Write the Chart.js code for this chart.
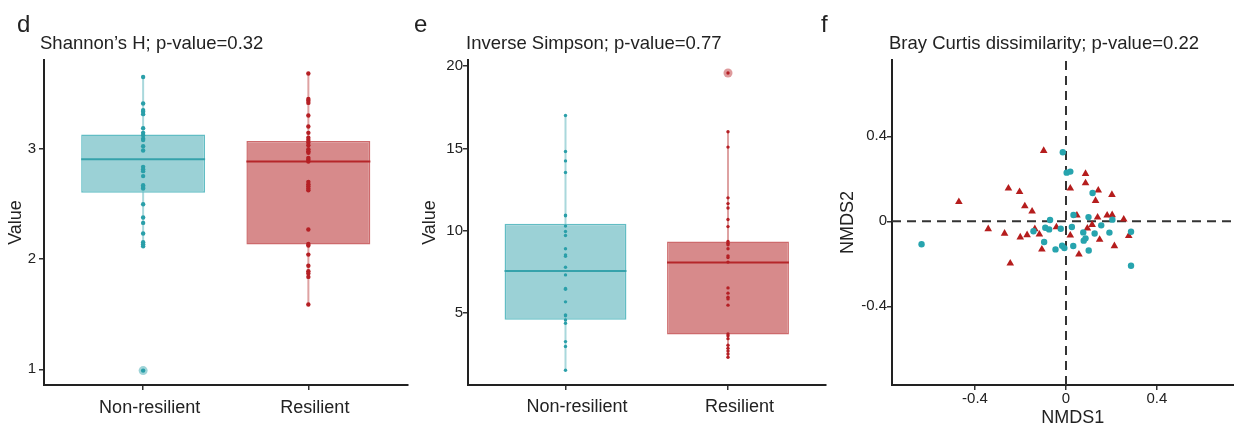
<!DOCTYPE html>
<html><head><meta charset="utf-8">
<script src="https://cdn.jsdelivr.net/npm/chart.js@4.4.1/dist/chart.umd.min.js"></script>
<style>
html,body{margin:0;padding:0;background:#fff;overflow:hidden;width:1234px;height:427px;position:relative;font-family:"Liberation Sans",Arial,sans-serif;color:#222}
canvas{position:absolute;top:0}
.lab{position:absolute;line-height:1;white-space:nowrap;color:#222}
.panel{font-size:24px}
.ttl{font-size:18.5px}
</style></head><body>
<canvas id="cd" width="412" height="427" style="left:0px"></canvas>
<canvas id="ce" width="414" height="427" style="left:416px"></canvas>
<canvas id="cf" width="426" height="430" style="left:832px"></canvas>
<div class="lab panel" style="left:17px;top:12px">d</div>
<div class="lab ttl" style="left:40px;top:34px">Shannon’s H; p-value=0.32</div>
<div class="lab panel" style="left:414px;top:12px">e</div>
<div class="lab ttl" style="left:466px;top:34px">Inverse Simpson; p-value=0.77</div>
<div class="lab panel" style="left:821px;top:12px">f</div>
<div class="lab ttl" style="left:889px;top:34px">Bray Curtis dissimilarity; p-value=0.22</div>
<script>
// ---------------- DATA ----------------
const groups = ['Non-resilient', 'Resilient'];

// Shannon's H (panel d)
const shannonNonResilient = [3.655,3.415,3.355,3.34,3.318,3.191,3.148,3.127,3.094,3.082,3.027,2.988,2.839,2.818,2.80,2.755,2.673,2.657,2.643,2.50,2.379,2.33,2.234,2.155,2.136,2.118,0.988];
const shannonResilient = [3.688,3.455,3.44,3.42,3.306,3.206,3.148,3.103,3.082,3.06,3.036,3.0,2.982,2.967,2.921,2.906,2.888,2.703,2.682,2.664,2.643,2.627,2.27,2.139,2.124,2.042,1.94,1.891,1.87,1.839,1.588];
const shannonOutNonResilient = [0.988];
const shannonOutResilient = [];
// [lower whisker, Q1, median, Q3, upper whisker]
const shannonBoxNonResilient = [2.115, 2.603, 2.909, 3.134, 3.655];
const shannonBoxResilient = [1.594, 2.133, 2.888, 3.075, 3.69];
const shannonTicks = [1, 2, 3];

// Inverse Simpson (panel e)
const simpsonNonResilient = [17.0,14.81,14.24,13.53,10.94,10.9,10.27,9.94,9.70,8.89,8.52,8.44,7.77,7.30,6.47,6.43,5.66,4.87,4.81,4.56,4.36,3.24,2.94,1.50];
const simpsonResilient = [19.59,16.01,15.08,11.99,11.64,11.37,10.67,10.24,9.33,9.23,9.13,8.89,8.46,8.36,8.08,6.51,6.19,5.94,5.84,5.46,3.71,3.59,3.42,3.02,2.83,2.67,2.49,2.29];
const simpsonOutNonResilient = [];
const simpsonOutResilient = [19.59];
const simpsonBoxNonResilient = [1.49, 4.574, 7.545, 10.41, 17.01];
const simpsonBoxResilient = [2.26, 3.68, 8.05, 9.33, 16.0];
const simpsonTicks = [5, 10, 15, 20];

// NMDS (panel f)
const nmdsResilientX = [-0.098,-0.471,-0.253,-0.204,-0.181,-0.149,-0.342,-0.27,-0.201,-0.171,-0.137,-0.117,-0.106,-0.245,-0.042,0.019,0.019,0.048,0.086,0.086,0.057,0.094,0.115,0.13,0.142,0.139,0.148,0.181,0.203,0.202,0.213,0.254,0.276];
const nmdsResilientY = [0.332,0.092,0.155,0.139,0.072,0.047,-0.036,-0.057,-0.075,-0.064,-0.036,-0.061,-0.132,-0.198,-0.027,0.155,-0.066,0.028,0.224,0.18,-0.155,-0.033,-0.016,0.097,0.146,0.019,-0.086,0.028,0.030,0.125,-0.116,0.009,-0.068];
const nmdsNonResilientX = [-0.635,-0.014,0.003,0.019,0.117,0.033,0.099,0.204,-0.07,-0.143,-0.091,-0.074,-0.023,0.026,0.076,0.126,0.155,0.191,0.286,-0.096,0.086,0.078,-0.046,-0.017,-0.007,0.032,0.1,0.286];
const nmdsNonResilientY = [-0.108,0.325,0.229,0.234,0.133,0.030,0.020,0.008,0.006,-0.047,-0.030,-0.038,-0.035,-0.027,-0.052,-0.057,-0.019,-0.053,-0.049,-0.097,-0.080,-0.091,-0.132,-0.115,-0.126,-0.116,-0.137,-0.209];
const nmdsTicks = [-0.4, 0, 0.4];
const nmdsTickLabels = ['-0.4', '0', '0.4'];

// ---------------- STYLE ----------------
Chart.defaults.font.family = '"Liberation Sans", Arial, sans-serif';
Chart.defaults.color = '#222';
const TEAL = {pt:'#2a9fa9', fill:'#9bd1d6', border:'#62bdc4', med:'#36a2ab', whisk:'#a9d8dc', out:'rgba(42,159,169,0.45)'};
const RED  = {pt:'#b51f24', fill:'#d78a8b', border:'#cd6a6c', med:'#b5262a', whisk:'#dea2a2', out:'rgba(181,31,36,0.45)'};
const PAL = [TEAL, RED];
const BOX_HALF = 0.375;
const AXC = '#222';

function axisCommon() {
  return {
    grid: {display: true, offset: false, drawOnChartArea: false, drawTicks: true, tickLength: 5, color: '#333', lineWidth: 1.5},
    border: {display: true, color: AXC, width: 2}
  };
}

function boxChart(id, o) {
  const ds = [];
  o.boxes.forEach((b, i) => {
    ds.push({type: 'line', data: [{x: i + 1, y: b[0]}, {x: i + 1, y: b[4]}], borderColor: PAL[i].whisk, borderWidth: 2, pointRadius: 0, order: 5});
  });
  ds.push({type: 'bar', data: o.boxes.map((b, i) => ({x: i + 1, y: [b[1], b[3]]})),
    backgroundColor: PAL.map(p => p.fill), borderColor: PAL.map(p => p.border),
    borderWidth: 1.5, borderSkipped: false, barPercentage: 0.75, categoryPercentage: 1, order: 4});
  o.boxes.forEach((b, i) => {
    ds.push({type: 'line', data: [{x: i + 1 - BOX_HALF, y: b[2]}, {x: i + 1 + BOX_HALF, y: b[2]}], borderColor: PAL[i].med, borderWidth: 2, pointRadius: 0, order: 3});
  });
  o.outliers.forEach((arr, i) => {
    ds.push({type: 'scatter', data: arr.map(v => ({x: i + 1, y: v})), backgroundColor: PAL[i].out, borderWidth: 0, pointRadius: 4.5, order: 2});
  });
  o.points.forEach((arr, i) => {
    ds.push({type: 'scatter', data: arr.map(v => ({x: i + 1, y: v})), backgroundColor: PAL[i].pt, borderWidth: 0, pointRadius: o.ptR, order: 1});
  });
  const ac = axisCommon();
  new Chart(document.getElementById(id), {
    type: 'scatter',
    data: {datasets: ds},
    options: {
      responsive: false, animation: false, devicePixelRatio: 1,
      layout: {padding: {top: 60, left: 0, right: o.padRight, bottom: 0}},
      plugins: {legend: {display: false}, tooltip: {enabled: false}, title: {display: false}},
      scales: {
        x: {type: 'linear', min: 0.4, max: 2.6, offset: false,
          afterBuildTicks: s => { s.ticks = groups.map((g, i) => ({value: i + 1})); },
          afterFit: s => { s.height = 42; },
          ticks: {callback: v => groups[Math.round(v) - 1], font: {size: 18}, padding: o.xPad, labelOffset: o.labelOffset, color: '#222', autoSkip: false, maxRotation: 0},
          grid: ac.grid, border: ac.border},
        y: {type: 'linear', min: o.yMin, max: o.yMax,
          afterBuildTicks: s => { s.ticks = o.ticks.map(v => ({value: v})); },
          afterFit: s => { s.width = o.yWidth; },
          ticks: {font: {size: 15}, padding: o.yPad, color: '#222'},
          title: {display: true, text: 'Value', font: {size: 18}, padding: {top: o.titlePad, bottom: 0}, color: '#222'},
          grid: ac.grid, border: ac.border}
      }
    }
  });
}

boxChart('cd', {
  boxes: [shannonBoxNonResilient, shannonBoxResilient],
  points: [shannonNonResilient, shannonResilient],
  outliers: [shannonOutNonResilient, shannonOutResilient],
  ticks: shannonTicks, yMin: 0.857, yMax: 3.81, yWidth: 44, yPad: 3, titlePad: 5,
  padRight: 2, xPad: 7.5, labelOffset: 6.5, ptR: 2.2
});
boxChart('ce', {
  boxes: [simpsonBoxNonResilient, simpsonBoxResilient],
  points: [simpsonNonResilient, simpsonResilient],
  outliers: [simpsonOutNonResilient, simpsonOutResilient],
  ticks: simpsonTicks, yMin: 0.6, yMax: 20.38, yWidth: 52, yPad: 0, titlePad: 3,
  padRight: 3, xPad: 6, labelOffset: 11.5, ptR: 1.7
});

// NMDS scatter
(function () {
  const ac = axisCommon();
  const X0 = -0.765, X1 = 0.825, Y0 = -0.77, Y1 = 0.759;
  new Chart(document.getElementById('cf'), {
    type: 'scatter',
    data: {datasets: [
      {type: 'line', data: [{x: X0, y: 0}, {x: X1, y: 0}], borderColor: '#333', borderWidth: 2, borderDash: [9, 6], pointRadius: 0, order: 5},
      {type: 'line', data: [{x: 0, y: Y0}, {x: 0, y: Y1}], borderColor: '#333', borderWidth: 2, borderDash: [9, 6], pointRadius: 0, order: 5},
      {label: 'Resilient', data: nmdsResilientX.map((x, i) => ({x, y: nmdsResilientY[i]})), pointStyle: 'triangle', pointRadius: 4.4, backgroundColor: '#b51d1d', borderColor: '#b51d1d', borderWidth: 0, order: 2},
      {label: 'Non-resilient', data: nmdsNonResilientX.map((x, i) => ({x, y: nmdsNonResilientY[i]})), pointStyle: 'circle', pointRadius: 3.2, backgroundColor: '#27a4ae', borderWidth: 0, order: 1}
    ]},
    options: {
      responsive: false, animation: false, devicePixelRatio: 1,
      layout: {padding: {top: 60, left: 0, right: 0, bottom: 0}},
      plugins: {legend: {display: false}, tooltip: {enabled: false}},
      scales: {
        x: {type: 'linear', min: X0, max: X1,
          afterBuildTicks: s => { s.ticks = nmdsTicks.map(v => ({value: v})); },
          afterFit: s => { s.height = 45; },
          ticks: {callback: (v, i) => nmdsTickLabels[i], font: {size: 15}, padding: 0, color: '#222', autoSkip: false, maxRotation: 0},
          title: {display: true, text: 'NMDS1', font: {size: 18}, padding: {top: 0, bottom: 1}, color: '#222'},
          grid: ac.grid, border: ac.border},
        y: {type: 'linear', min: Y0, max: Y1,
          afterBuildTicks: s => { s.ticks = nmdsTicks.map(v => ({value: v})); },
          afterFit: s => { s.width = 60; },
          ticks: {callback: (v, i) => nmdsTickLabels[i], font: {size: 15}, padding: 0, color: '#222'},
          title: {display: true, text: 'NMDS2', font: {size: 18}, padding: {top: 5, bottom: 0}, color: '#222'},
          grid: ac.grid, border: ac.border}
      }
    }
  });
})();
</script>
</body></html>
